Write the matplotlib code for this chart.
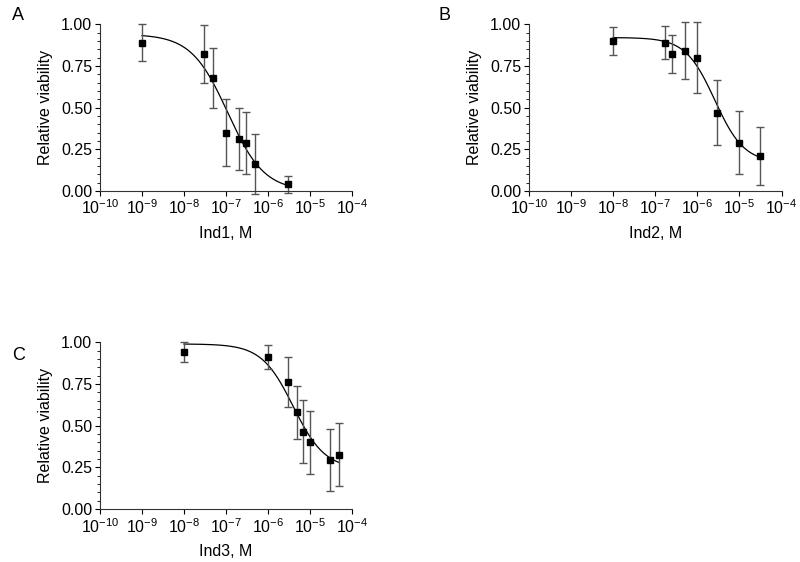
import matplotlib
matplotlib.use("Agg")
import matplotlib.pyplot as plt
import numpy as np
from matplotlib.ticker import MultipleLocator, LogLocator, FixedLocator, NullFormatter

plt.rcParams['font.family'] = ['Liberation Sans', 'DejaVu Sans']
plt.rcParams['mathtext.fontset'] = 'custom'
plt.rcParams['mathtext.rm'] = 'Liberation Sans'
plt.rcParams['mathtext.it'] = 'Liberation Sans'
plt.rcParams['mathtext.bf'] = 'Liberation Sans'

# panel A - Ind1
conc1 = [1e-9, 3e-8, 5e-8, 1e-7, 2e-7, 3e-7, 5e-7, 3e-6]
via1 = [0.89, 0.82, 0.68, 0.35, 0.31, 0.29, 0.16, 0.04]
err1 = [0.11, 0.175, 0.18, 0.20, 0.185, 0.185, 0.18, 0.05]
fit1 = dict(top=0.94, bottom=0.0, ic50=1.1e-7, hill=1.0)

# panel B - Ind2
conc2 = [1e-8, 1.7e-7, 2.5e-7, 5e-7, 1e-6, 3e-6, 1e-5, 3e-5]
via2 = [0.90, 0.89, 0.82, 0.84, 0.80, 0.47, 0.29, 0.21]
err2 = [0.085, 0.10, 0.115, 0.17, 0.21, 0.195, 0.19, 0.175]
fit2 = dict(top=0.92, bottom=0.17, ic50=2.6e-6, hill=1.25)

# panel C - Ind3
conc3 = [1e-8, 1e-6, 3e-6, 5e-6, 7e-6, 1e-5, 3e-5, 5e-5]
via3 = [0.94, 0.91, 0.76, 0.58, 0.465, 0.40, 0.295, 0.327]
err3 = [0.06, 0.072, 0.15, 0.16, 0.187, 0.187, 0.187, 0.187]
fit3 = dict(top=0.99, bottom=0.24, ic50=4e-6, hill=1.15)

panels = [
    ("A", "Ind1, M", conc1, via1, err1, fit1, [0.125, 0.660, 0.315, 0.297], (12, 15)),
    ("B", "Ind2, M", conc2, via2, err2, fit2, [0.661, 0.660, 0.316, 0.297], (438, 15)),
    ("C", "Ind3, M", conc3, via3, err3, fit3, [0.125, 0.094, 0.315, 0.297], (12, 356)),
]

fig = plt.figure(figsize=(8, 5.62), dpi=100)

def curve(x, p):
    return p["bottom"] + (p["top"] - p["bottom"]) / (1 + (x / p["ic50"]) ** p["hill"])

for letter, xlabel, conc, via, err, fit, pos, lpos in panels:
    ax = fig.add_axes(pos)
    xs = np.logspace(np.log10(conc[0]), np.log10(conc[-1]), 200)
    ax.plot(xs, curve(xs, fit), color='black', lw=0.9, clip_on=False)
    ax.errorbar(conc, via, yerr=err, fmt='s', color='black', ms=4.5,
                ecolor='#555555', elinewidth=1.0, capsize=3, capthick=1.0,
                clip_on=False)
    ax.set_xscale('log')
    ax.set_xlim(1e-10, 1e-4)
    ax.set_ylim(0, 1.0)
    ax.spines['top'].set_visible(False)
    ax.spines['right'].set_visible(False)
    ax.spines['left'].set_color('#333333')
    ax.spines['bottom'].set_color('#333333')
    ax.xaxis.set_major_locator(FixedLocator([10.0 ** k for k in range(-10, -3)]))
    ax.xaxis.set_minor_locator(LogLocator(base=10, subs=np.arange(2, 10)))
    ax.xaxis.set_minor_formatter(NullFormatter())
    ax.set_xticklabels(["10$^{%d}$" % k for k in range(-10, -3)])
    ax.yaxis.set_major_locator(FixedLocator([0, 0.25, 0.5, 0.75, 1.0]))
    ax.set_yticklabels(["0.00", "0.25", "0.50", "0.75", "1.00"])
    ax.yaxis.set_minor_locator(MultipleLocator(0.05))
    ax.tick_params(which='major', length=3.5, width=0.8, labelsize=11.5, direction='out', pad=2)
    ax.tick_params(which='minor', length=2, width=0.6, direction='out')
    ax.set_xlabel(xlabel, fontsize=11.5, labelpad=6)
    ax.set_ylabel("Relative viability", fontsize=11.5, labelpad=6)
    fig.text(lpos[0] / 800, 1 - lpos[1] / 562, letter, fontsize=13, va='center', ha='left')

fig.savefig("out.png", dpi=100)
